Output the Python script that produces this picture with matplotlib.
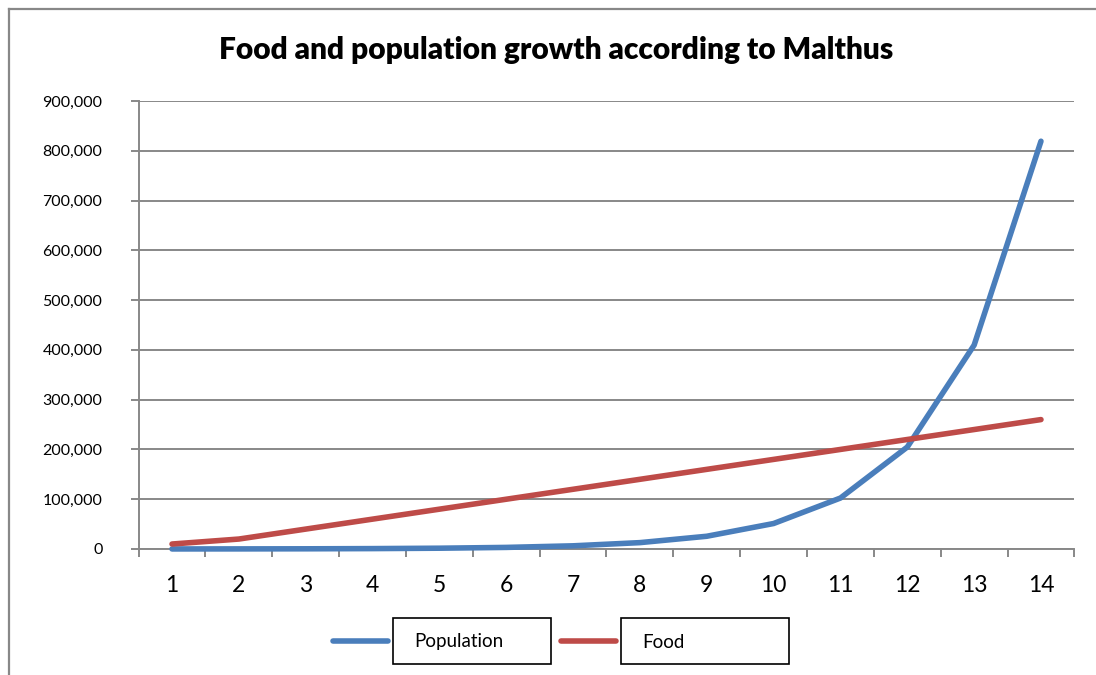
import matplotlib
matplotlib.use("Agg")
import matplotlib.pyplot as plt
from matplotlib.lines import Line2D
from matplotlib.patches import Rectangle
from matplotlib.ticker import FuncFormatter, MultipleLocator, FixedLocator

plt.rcParams['font.family'] = ['Lato', 'DejaVu Sans']

# ---- data ----
periods = [1, 2, 3, 4, 5, 6, 7, 8, 9, 10, 11, 12, 13, 14]
population = [100, 200, 400, 800, 1600, 3200, 6400, 12800, 25600, 51200,
              102400, 204800, 409600, 819200]
food = [10000, 20000, 40000, 60000, 80000, 100000, 120000, 140000, 160000,
        180000, 200000, 220000, 240000, 260000]
series_names = ["Population", "Food"]
title = "Food and population growth according to Malthus"

W, H = 1096, 675
fig = plt.figure(figsize=(W / 100, H / 100), dpi=100)

def fx(px):
    return px / W

def fy(py):
    return 1 - py / H

# axes placement (pixels)
left, right, top, bottom = 138.6, 1074.4, 101, 549
ax = fig.add_axes([fx(left), fy(bottom), fx(right) - fx(left), fy(top) - fy(bottom)])

blue = "#4A7EBB"
red = "#BE4B48"
grey = "#888888"

ax.plot(periods, population, color=blue, lw=4.0, solid_capstyle='round',
        solid_joinstyle='round', zorder=3, clip_on=False)
ax.plot(periods, food, color=red, lw=4.0, solid_capstyle='round',
        solid_joinstyle='round', zorder=3, clip_on=False)

ax.set_xlim(0.5, 14.5)
ax.set_ylim(0, 900000)

ax.yaxis.set_major_locator(MultipleLocator(100000))
ax.yaxis.set_major_formatter(FuncFormatter(lambda v, p: f"{int(v):,}"))
ax.grid(axis='y', color=grey, lw=1.4)
ax.set_axisbelow(True)

ax.xaxis.set_major_locator(FixedLocator(periods))
ax.set_xticklabels([str(p) for p in periods])
ax.xaxis.set_minor_locator(FixedLocator([p - 0.5 for p in periods] + [periods[-1] + 0.5]))

ax.tick_params(axis='y', which='major', direction='out', length=6, width=1.4,
               color=grey, pad=20, labelsize=11.5)
ax.tick_params(axis='x', which='major', length=0, pad=19, labelsize=16.5)
ax.tick_params(axis='x', which='minor', direction='out', length=6, width=1.4, color=grey)

for s in ['top', 'right']:
    ax.spines[s].set_visible(False)
for s in ['left', 'bottom']:
    ax.spines[s].set_color(grey)
    ax.spines[s].set_linewidth(1.4)

fig.text(fx(556), fy(50), title, ha='center', va='center', fontsize=21.5,
         fontweight='heavy')

# chart border (top & left edges)
fig.add_artist(Line2D([fx(9), fx(W)], [fy(9), fy(9)], color=grey, lw=1.6))
fig.add_artist(Line2D([fx(9), fx(9)], [fy(9), fy(H)], color=grey, lw=1.6))

# legend
leg = [
    (series_names[0], blue, 333, 388, 393, 551),
    (series_names[1], red, 561, 616, 621, 789),
]
for name, col, lx0, lx1, bx0, bx1 in leg:
    fig.add_artist(Line2D([fx(lx0), fx(lx1)], [fy(641), fy(641)], color=col,
                          lw=4.0, solid_capstyle='round'))
    fig.add_artist(Rectangle((fx(bx0), fy(664)), fx(bx1) - fx(bx0), fy(618) - fy(664),
                             fill=False, edgecolor='black', lw=1.2,
                             transform=fig.transFigure))
    fig.text(fx(bx0 + 21), fy(642), name, ha='left', va='center', fontsize=13.5)

fig.savefig("out.png", dpi=100)
